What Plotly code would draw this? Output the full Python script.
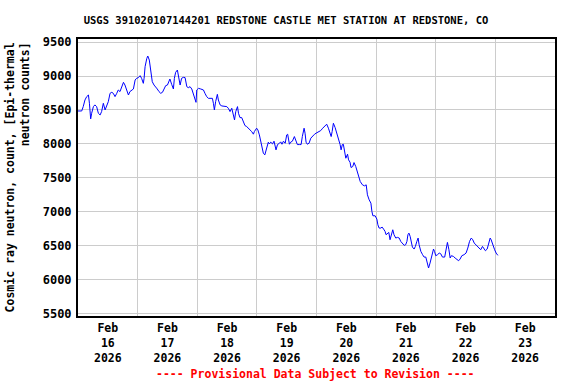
import pandas as pd
import plotly.graph_objects as go

# Hours since 2026-02-16 00:00 (local) and cosmic ray neutron counts
hours = [0.0, 1.5, 2.1, 2.8, 3.5, 4.2, 4.6, 5.1, 5.5, 6.2, 6.8, 7.5, 8.2, 8.9, 9.5, 10.2,
         10.9, 11.5, 12.2, 12.9, 13.6, 14.2, 14.9, 15.6, 16.2, 16.9, 17.6, 18.3, 18.9, 19.6,
         20.3, 20.9, 21.6, 22.3, 23.0, 23.6, 24.3, 25.0, 25.6, 26.3, 26.6, 27.0, 27.7, 28.1,
         28.7, 29.3, 29.9, 30.6, 31.3, 31.9, 32.6, 33.3, 34.0, 34.6, 35.3, 36.0, 36.6, 37.0,
         37.7, 38.4, 38.8, 39.3, 40.0, 40.5, 41.1, 41.7, 42.4, 43.1, 43.8, 44.4, 45.1, 45.8,
         46.4, 47.1, 47.5, 47.8, 48.5, 49.4, 50.5, 51.1, 51.8, 52.5, 53.2, 54.1, 54.5, 54.9,
         55.4, 56.1, 56.5, 57.2, 57.9, 58.8, 59.9, 60.5, 61.2, 61.9, 62.5, 63.0, 63.5, 64.2,
         64.6, 65.2, 65.9, 66.6, 67.2, 67.9, 68.6, 69.3, 69.9, 70.6, 71.0, 71.9, 72.4, 73.0,
         73.6, 74.1, 74.6, 75.2, 75.7, 76.6, 77.0, 77.6, 78.3, 78.9, 79.7, 80.3, 81.1, 81.6,
         82.1, 82.7, 83.4, 84.0, 84.4, 85.1, 85.6, 86.3, 87.1, 87.8, 88.3, 89.1, 89.8, 90.3,
         91.0, 91.4, 91.8, 92.3, 93.0, 93.7, 94.4, 95.2, 95.8, 96.8, 97.7, 98.5, 99.5, 100.1,
         100.8, 101.5, 101.9, 102.3, 102.8, 103.5, 104.2, 104.8, 105.5, 105.9, 106.4, 106.8,
         107.2, 107.8, 108.5, 108.9, 109.5, 109.9, 110.6, 111.1, 111.8, 112.5, 112.9, 113.6,
         114.5, 115.3, 116.0, 116.5, 117.2, 117.9, 118.3, 118.7, 119.6, 120.3, 120.7, 121.2,
         121.9, 122.4, 123.0, 123.6, 124.0, 124.6, 125.1, 125.6, 126.2, 126.7, 127.2, 127.9,
         128.6, 129.3, 129.9, 130.6, 131.3, 131.9, 132.4, 132.8, 133.2, 133.7, 134.1, 134.6,
         135.3, 135.8, 136.4, 136.9, 137.3, 138.0, 138.7, 139.3, 140.0, 140.4, 141.1, 141.7,
         142.4, 143.1, 143.5, 144.0, 144.7, 145.4, 146.0, 146.7, 147.6, 148.2, 148.7, 149.3,
         149.8, 150.3, 151.1, 151.8, 152.5, 153.2, 153.8, 154.5, 155.4, 156.2, 156.9, 157.6,
         158.3, 158.9, 159.5, 160.1, 160.8, 161.5, 162.1, 162.8, 163.5, 164.0, 164.7, 165.2,
         165.9, 166.3, 167.0, 167.7, 168.3, 169.0]

counts = [8485, 8485, 8549, 8647, 8696, 8720, 8598, 8368, 8451, 8549, 8574, 8549, 8451, 8426, 8476, 8598,
          8500, 8549, 8622, 8745, 8760, 8745, 8696, 8745, 8794, 8770, 8843, 8907, 8867, 8794,
          8720, 8770, 8794, 8809, 8941, 8966, 8976, 9005, 8966, 8892, 8966, 9137, 9260, 9294,
          9235, 9064, 8916, 8867, 8843, 8809, 8770, 8745, 8760, 8809, 8858, 8867, 8916, 8956,
          8877, 8809, 8966, 9054, 9088, 8990, 8867, 8966, 8980, 8976, 8843, 8828, 8843, 8809,
          8745, 8647, 8612, 8794, 8818, 8809, 8794, 8745, 8696, 8671, 8671, 8671, 8598, 8500,
          8622, 8730, 8647, 8574, 8559, 8559, 8549, 8525, 8476, 8525, 8451, 8353, 8476, 8549,
          8451, 8387, 8387, 8304, 8270, 8255, 8231, 8206, 8182, 8143, 8182, 8231, 8206, 8133,
          8010, 7912, 7863, 7838, 7912, 8025, 8000, 8025, 8000, 8040, 7912, 7990, 8010, 8030,
          7995, 8040, 8010, 8132, 8142, 7995, 8025, 8040, 8108, 8025, 7990, 7990, 7990, 8108,
          8231, 8157, 8025, 7995, 8010, 8084, 8118, 8142, 8157, 8182, 8196, 8231, 8270, 8290,
          8231, 8157, 8108, 8182, 8304, 8240, 8157, 8059, 7990, 7912, 7990, 7995,
          7887, 7789, 7848, 7765, 7730, 7652, 7667, 7725, 7667, 7593, 7519, 7446,
          7397, 7382, 7397, 7250, 7176, 7127, 7005, 6941, 6941, 6892, 6809, 6760,
          6760, 6775, 6745, 6711, 6662, 6686, 6696, 6588, 6662, 6735, 6662, 6613,
          6623, 6613, 6564, 6529, 6505, 6515, 6564, 6662, 6686, 6637, 6564, 6480,
          6451, 6490, 6564, 6613, 6515, 6417, 6368, 6333, 6333, 6270, 6172, 6245,
          6343, 6451, 6417, 6353, 6368, 6392, 6382, 6333, 6333, 6466, 6549, 6441,
          6319, 6353, 6343, 6319, 6294, 6279, 6304, 6353, 6368, 6392, 6466, 6564,
          6613, 6588, 6539, 6515, 6500, 6466, 6441, 6490, 6451, 6426, 6451, 6515,
          6613, 6588, 6500, 6441, 6392, 6358]

start = pd.Timestamp("2026-02-16 00:00")
times = start + pd.to_timedelta(hours, unit="h")

x_range = ["2026-02-16 00:00", "2026-02-24 00:00"]
y_range = [5465, 9545]
y_ticks = [5500, 6000, 6500, 7000, 7500, 8000, 8500, 9000, 9500]

title_text = "USGS 391020107144201 REDSTONE CASTLE MET STATION AT REDSTONE, CO"
y_title = "Cosmic ray neutron, count, [Epi-thermal<br>neutron counts]"
footer = "---- Provisional Data Subject to Revision ----"

FONT = "DejaVu Sans Mono"

fig = go.Figure()
fig.add_trace(go.Scatter(x=times, y=counts, mode="lines",
                         line=dict(color="#0000ff", width=1), showlegend=False,
                         hoverinfo="skip"))

W, H = 576, 384
fig.update_layout(
    width=W, height=H,
    margin=dict(l=78, r=21, t=39, b=68),
    paper_bgcolor="white", plot_bgcolor="white",
    title=dict(text=title_text, x=286 / W, xanchor="center", xref="container",
               y=1 - 20 / H, yanchor="middle", yref="container",
               font=dict(family=FONT, size=10.5, color="black", weight="bold")),
    font=dict(family=FONT, color="black"),
    hovermode=False,
)

fig.update_xaxes(
    range=x_range, type="date",
    dtick=86400000, tick0="2026-02-16", tickformat="%b<br>%d<br>%Y",
    ticklabelmode="period",
    showgrid=True, gridcolor="#cccccc", gridwidth=1,
    showline=True, linecolor="black", linewidth=2, mirror=True,
    ticks="", tickfont=dict(family=FONT, size=11.5, color="black", weight="bold"),
    zeroline=False,
)
fig.update_yaxes(
    range=y_range, tickvals=y_ticks,
    showgrid=True, gridcolor="#cccccc", gridwidth=1,
    showline=True, linecolor="black", linewidth=2, mirror=True,
    ticks="", ticklabelstandoff=2,
    tickfont=dict(family=FONT, size=12, color="black", weight="bold"),
    zeroline=False,
)

fig.add_annotation(text=y_title, textangle=-90, xref="paper", yref="paper",
                   x=-0.126, y=0.5, xanchor="center", yanchor="middle", align="right",
                   showarrow=False,
                   font=dict(family=FONT, size=11.5, color="black", weight="bold"))
fig.add_annotation(text=footer, xref="paper", yref="paper",
                   x=0.498, y=-0.209, xanchor="center", yanchor="middle",
                   showarrow=False,
                   font=dict(family=FONT, size=11.5, color="red", weight="bold"))

# Remove the browser's default 8px body margin so the figure fills the window exactly
fig.write_html("out.html",
               config={"displayModeBar": False},
               post_script="document.body.style.margin='0px';document.body.style.overflow='hidden';")
